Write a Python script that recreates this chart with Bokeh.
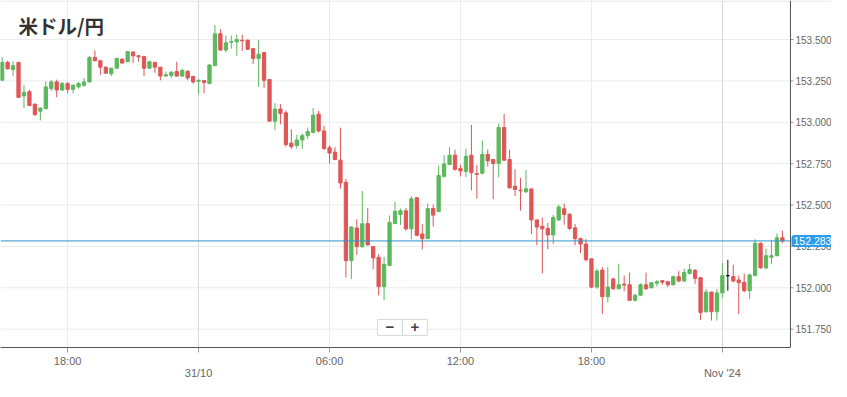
import pandas as pd
from bokeh.plotting import figure
from bokeh.models import Range1d, FixedTicker, Span, Label, Grid, ColumnDataSource
from bokeh.embed import file_html
from bokeh.resources import INLINE
from bokeh.core.properties import value

title_text = "米ドル/円"
start_time = "2024-10-30 15:00"
day_start = "2024-10-31 00:00"

opens = [153.254, 153.362, 153.319, 153.362, 153.159, 153.185, 153.110, 153.067, 153.082, 153.204,
         153.244, 153.195, 153.234, 153.199, 153.214, 153.224, 153.244, 153.392, 153.372, 153.333,
         153.293, 153.327, 153.382, 153.366, 153.425, 153.402, 153.398, 153.327, 153.362, 153.333,
         153.279, 153.283, 153.307, 153.279, 153.309, 153.277, 153.248, 153.252, 153.234, 153.342,
         153.535, 153.437, 153.484, 153.486, 153.496, 153.496, 153.445, 153.386, 153.421, 153.258,
         153.007, 153.080, 153.057, 152.874, 152.860, 152.893, 152.919, 152.939, 153.049, 152.948,
         152.846, 152.820, 152.771, 152.637, 152.164, 152.361, 152.249, 152.387, 152.249, 152.184,
         152.007, 152.135, 152.389, 152.443, 152.465, 152.356, 152.544, 152.325, 152.297, 152.479,
         152.461, 152.673, 152.745, 152.801, 152.720, 152.702, 152.801, 152.690, 152.692, 152.806,
         152.775, 152.751, 152.968, 152.775, 152.614, 152.590, 152.580, 152.597, 152.410, 152.371,
         152.358, 152.319, 152.410, 152.478, 152.445, 152.362, 152.297, 152.264, 152.175, 152.004,
         152.107, 151.946, 152.053, 151.994, 152.022, 152.018, 151.924, 151.955, 152.018, 152.000,
         152.028, 152.043, 152.037, 152.018, 152.067, 152.041, 152.086, 152.106, 152.061, 151.855,
         151.974, 151.855, 151.969, 152.073, 152.067, 152.047, 152.033, 151.982, 152.073, 152.269,
         152.120, 152.184, 152.194, 152.302]
highs = [153.392, 153.372, 153.368, 153.365, 153.224, 153.195, 153.112, 153.090, 153.248, 153.254,
         153.258, 153.244, 153.244, 153.228, 153.244, 153.268, 153.401, 153.435, 153.374, 153.337,
         153.329, 153.388, 153.384, 153.431, 153.427, 153.405, 153.400, 153.372, 153.366, 153.335,
         153.307, 153.307, 153.366, 153.323, 153.313, 153.279, 153.260, 153.254, 153.352, 153.589,
         153.563, 153.524, 153.524, 153.530, 153.530, 153.500, 153.447, 153.496, 153.423, 153.260,
         153.116, 153.110, 153.071, 152.957, 152.925, 152.933, 152.968, 153.086, 153.069, 152.978,
         152.860, 152.850, 152.968, 152.658, 152.371, 152.413, 152.584, 152.481, 152.253, 152.204,
         152.186, 152.437, 152.519, 152.479, 152.483, 152.554, 152.546, 152.384, 152.509, 152.503,
         152.738, 152.801, 152.850, 152.834, 152.743, 152.840, 152.984, 152.741, 152.889, 152.836,
         152.777, 152.992, 153.051, 152.834, 152.716, 152.663, 152.712, 152.600, 152.412, 152.424,
         152.392, 152.440, 152.502, 152.508, 152.449, 152.385, 152.303, 152.293, 152.176, 152.116,
         152.125, 152.125, 152.061, 152.145, 152.073, 152.092, 151.963, 152.027, 152.092, 152.035,
         152.047, 152.047, 152.041, 152.073, 152.100, 152.116, 152.145, 152.112, 152.063, 151.992,
         151.976, 151.992, 152.151, 152.169, 152.139, 152.073, 152.086, 152.086, 152.293, 152.273,
         152.237, 152.286, 152.328, 152.345]
lows = [153.250, 153.319, 153.279, 153.148, 153.086, 153.096, 153.037, 153.011, 153.080, 153.189,
        153.151, 153.189, 153.175, 153.175, 153.204, 153.214, 153.242, 153.368, 153.287, 153.293,
        153.279, 153.323, 153.356, 153.364, 153.358, 153.366, 153.279, 153.323, 153.299, 153.254,
        153.273, 153.268, 153.277, 153.273, 153.254, 153.234, 153.169, 153.175, 153.230, 153.340,
        153.431, 153.421, 153.445, 153.401, 153.431, 153.437, 153.352, 153.214, 153.208, 153.005,
        152.952, 152.988, 152.853, 152.839, 152.840, 152.840, 152.899, 152.933, 152.939, 152.836,
        152.750, 152.771, 152.598, 152.062, 152.052, 152.199, 152.239, 152.255, 152.111, 151.954,
        151.924, 152.133, 152.383, 152.380, 152.344, 152.292, 152.311, 152.232, 152.295, 152.370,
        152.459, 152.667, 152.741, 152.708, 152.673, 152.669, 152.588, 152.539, 152.686, 152.732,
        152.535, 152.667, 152.769, 152.600, 152.555, 152.466, 152.574, 152.324, 152.257, 152.087,
        152.234, 152.263, 152.404, 152.381, 152.348, 152.257, 152.210, 152.160, 151.998, 151.994,
        151.842, 151.911, 151.988, 151.992, 151.979, 151.920, 151.916, 151.949, 151.988, 151.996,
        152.008, 152.018, 152.004, 152.014, 152.033, 152.033, 152.080, 152.024, 151.806, 151.851,
        151.802, 151.802, 151.939, 151.982, 152.033, 151.841, 151.974, 151.933, 152.071, 152.116,
        152.112, 152.143, 152.190, 152.269]
closes = [153.362, 153.323, 153.342, 153.151, 153.181, 153.102, 153.047, 153.086, 153.214, 153.244,
          153.195, 153.234, 153.199, 153.224, 153.234, 153.244, 153.392, 153.372, 153.333, 153.297,
          153.327, 153.386, 153.358, 153.427, 153.402, 153.396, 153.327, 153.366, 153.333, 153.279,
          153.287, 153.303, 153.279, 153.313, 153.268, 153.244, 153.254, 153.240, 153.346, 153.535,
          153.437, 153.480, 153.488, 153.500, 153.492, 153.441, 153.386, 153.411, 153.254, 153.007,
          153.080, 153.053, 152.865, 152.853, 152.893, 152.919, 152.944, 153.043, 152.948, 152.840,
          152.814, 152.775, 152.633, 152.164, 152.367, 152.249, 152.387, 152.259, 152.180, 152.007,
          152.141, 152.395, 152.462, 152.465, 152.356, 152.538, 152.317, 152.297, 152.479, 152.439,
          152.679, 152.748, 152.801, 152.716, 152.706, 152.795, 152.696, 152.686, 152.806, 152.767,
          152.751, 152.968, 152.771, 152.604, 152.594, 152.586, 152.598, 152.410, 152.367, 152.356,
          152.319, 152.424, 152.488, 152.443, 152.358, 152.297, 152.264, 152.169, 152.004, 152.101,
          151.946, 152.004, 151.994, 152.018, 152.016, 151.924, 151.955, 152.018, 151.994, 152.030,
          152.037, 152.034, 152.018, 152.067, 152.041, 152.092, 152.110, 152.057, 151.851, 151.974,
          151.855, 151.969, 152.073, 152.073, 152.041, 152.031, 151.982, 152.077, 152.269, 152.120,
          152.194, 152.194, 152.302, 152.283]

x_tick_hours = [-6, 0, 6, 12, 18, 24]
x_tick_labels = ["18:00", "\n31/10", "06:00", "12:00", "18:00", "\nNov '24"]
time_grid_hours = [-6, 6, 12, 18]
day_grid_hours = [0, 24]
y_ticks = [151.75, 152.0, 152.25, 152.5, 152.75, 153.0, 153.25, 153.5]
y_tick_labels = ["151.750", "152.000", "152.250", "152.500", "152.750", "153.000", "153.250", "153.500"]

# view window (hours from 31/10 00:00, price)
X_START, AXIS_X, X_END = -9.076, 27.12, 29.0
Y_LOW, Y_HIGH = 151.639, 153.736

UP, DOWN, FLAT = "#5cb85c", "#e05555", "#111111"
AXIS_COL, GRID_COL, TEXT_COL = "#555555", "#ebebeb", "#666666"

times = pd.date_range(start_time, periods=len(opens), freq="15min")
hours = list((times - pd.Timestamp(day_start)) / pd.Timedelta(hours=1))
colors = [UP if c > o else (DOWN if c < o else FLAT) for o, c in zip(opens, closes)]
src = ColumnDataSource(dict(
    t=hours, o=opens, h=highs, l=lows, c=closes,
    top=[max(o, c) for o, c in zip(opens, closes)],
    bot=[min(o, c) for o, c in zip(opens, closes)],
    col=colors))

p = figure(width=831, height=381, output_backend="svg", toolbar_location=None,
           y_axis_location=None,
           x_range=Range1d(X_START, X_END), y_range=Range1d(Y_LOW, Y_HIGH),
           min_border_left=0, min_border_top=0, min_border_right=0, min_border_bottom=0)
p.outline_line_color = None
p.background_fill_color = "white"
p.border_fill_color = "white"

# bottom time axis
xa = p.xaxis[0]
xa.ticker = FixedTicker(ticks=x_tick_hours)
xa.major_label_overrides = {k: v for k, v in zip(x_tick_hours, x_tick_labels)}
xa.bounds = (X_START, AXIS_X)
xa.axis_line_color = AXIS_COL
xa.major_tick_line_color = "#999999"
xa.major_tick_out = 5
xa.major_tick_in = 0
xa.minor_tick_line_color = None
xa.major_label_standoff = 2
xa.major_label_text_line_height = 1.0
xa.major_label_text_font = "Liberation Sans"
xa.major_label_text_font_size = "11px"
xa.major_label_text_color = TEXT_COL

# grids
p.xgrid.ticker = FixedTicker(ticks=time_grid_hours)
p.xgrid.grid_line_color = GRID_COL
p.ygrid.grid_line_color = None
p.add_layout(Grid(dimension=0, ticker=FixedTicker(ticks=day_grid_hours),
                  grid_line_color="#d8d8d8"))
p.segment(x0=[X_START] * len(y_ticks), x1=[AXIS_X] * len(y_ticks), y0=y_ticks, y1=y_ticks,
          line_color=GRID_COL, line_width=1, level="underlay")
# thin container border along the top edge
p.add_layout(Span(location=Y_HIGH - 0.003, dimension="width", line_color="#dddddd", line_width=1))

# right price axis (inside the drawing area so the price tag can sit over it)
p.add_layout(Span(location=AXIS_X, dimension="height", line_color=AXIS_COL, line_width=1))
p.segment(x0=[AXIS_X] * len(y_ticks), x1=[AXIS_X + 0.14] * len(y_ticks), y0=y_ticks, y1=y_ticks,
          line_color="#999999", line_width=1)
p.text(x=[AXIS_X] * len(y_ticks), y=y_ticks, text=y_tick_labels, x_offset=5,
       text_baseline="middle", text_align="left", text_font=value("Liberation Sans"),
       text_font_size="10px", text_color=TEXT_COL)

# candles
p.segment(x0="t", y0="h", x1="t", y1="l", line_color="col", line_width=1, source=src)
p.vbar(x="t", width=0.15, top="top", bottom="bot", fill_color="col", line_color="col",
       line_width=1, source=src)

# last price line and tag
last = closes[-1]
p.segment(x0=[X_START], x1=[AXIS_X], y0=[last], y1=[last], line_color="#2b93cc", line_width=1)
p.add_layout(Label(x=AXIS_X, y=last, x_offset=1, text=f"{last:.3f}", text_color="white",
                   text_font="Liberation Sans", text_font_size="10.5px",
                   text_baseline="middle", text_align="left",
                   background_fill_color="#2e9df0", padding=(2, 2, 2, 2), border_radius=3))

# title
p.add_layout(Label(x=18, x_units="screen", y=Y_HIGH, y_offset=-10, text=title_text,
                   text_font="Noto Sans CJK JP", text_font_style="bold",
                   text_font_size="19.5px", text_color="#333333", text_baseline="top"))

# zoom buttons
for bx, sym in ((377, "\u2212"), (402, "+")):
    p.add_layout(Label(x=bx, x_units="screen", y=151.712, text=sym,
                       text_font="Liberation Sans", text_font_style="bold",
                       text_font_size="15px", text_color="#444444", text_baseline="bottom",
                       background_fill_color="white", border_line_color="#d8d8d8",
                       padding=(8, 8, 3, 3)))

open("out.html", "w").write(file_html(p, INLINE))
